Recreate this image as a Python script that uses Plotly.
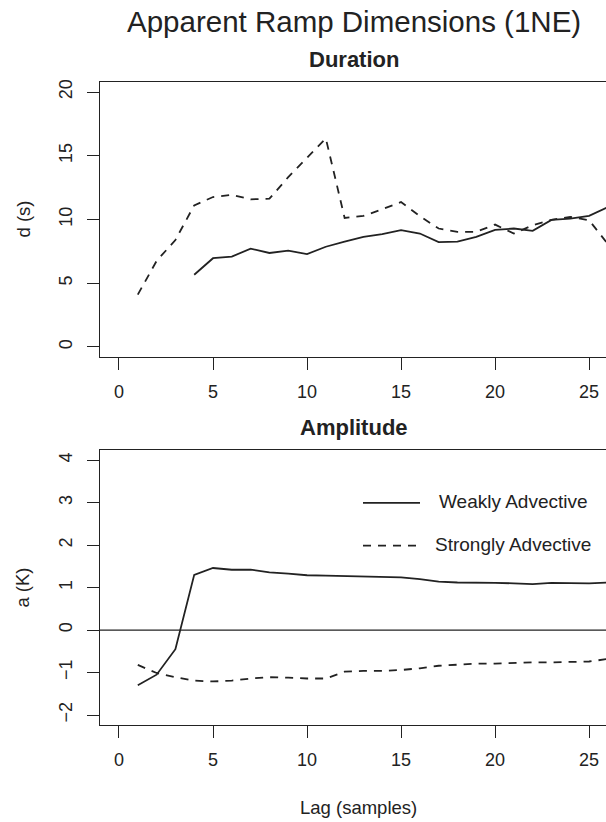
import plotly.graph_objects as go

# ---- data ----
lag = list(range(1, 27))
dur_weak_lag = list(range(4, 27))
dur_weak = [5.66, 6.96, 7.09, 7.71, 7.37, 7.55, 7.29, 7.86, 8.26, 8.64, 8.85, 9.16,
            8.90, 8.23, 8.26, 8.64, 9.19, 9.29, 9.11, 9.97, 10.07, 10.28, 10.97]
dur_strong = [4.10, 6.75, 8.39, 11.11, 11.76, 11.94, 11.58, 11.63, 13.32, 14.88, 16.36,
              10.12, 10.28, 10.80, 11.37, 10.26, 9.29, 9.03, 9.03, 9.60, 8.90, 9.55,
              9.97, 10.20, 9.94, 8.07]
amp_weak = [-1.30, -1.05, -0.45, 1.30, 1.46, 1.42, 1.42, 1.36, 1.33, 1.29, 1.28, 1.27,
            1.27, 1.26, 1.24, 1.20, 1.14, 1.12, 1.12, 1.11, 1.10, 1.08, 1.11, 1.10,
            1.10, 1.12]
amp_strong = [-0.82, -1.01, -1.11, -1.19, -1.21, -1.19, -1.14, -1.11, -1.12, -1.14,
              -1.14, -0.98, -0.96, -0.96, -0.94, -0.90, -0.84, -0.81, -0.79, -0.79,
              -0.77, -0.76, -0.76, -0.75, -0.74, -0.68]
x_ticks = [0, 5, 10, 15, 20, 25]
dur_ticks = [0, 5, 10, 15, 20]
amp_ticks = [-2, -1, 0, 1, 2, 3, 4]
series_names = ["Weakly Advective", "Strongly Advective"]

W, H = 606, 822
INK = "#222222"
FONT = "Liberation Sans, Arial, Helvetica, sans-serif"

def px_x(p):
    return p / W

def px_y(p):
    return 1 - p / H

fig = go.Figure()
line_solid = dict(color=INK, width=1.8)
line_dash = dict(color=INK, width=1.8, dash="8px,7px")

fig.add_trace(go.Scatter(x=dur_weak_lag, y=dur_weak, mode="lines", line=line_solid,
                         xaxis="x", yaxis="y", showlegend=False))
fig.add_trace(go.Scatter(x=lag, y=dur_strong, mode="lines", line=line_dash,
                         xaxis="x", yaxis="y", showlegend=False))
fig.add_trace(go.Scatter(x=lag, y=amp_weak, mode="lines", line=line_solid,
                         xaxis="x2", yaxis="y2", showlegend=False))
fig.add_trace(go.Scatter(x=lag, y=amp_strong, mode="lines", line=line_dash,
                         xaxis="x2", yaxis="y2", showlegend=False))

xdom = [px_x(100), 1.0]
xrange = [-1.01, 25.9]
axis_common = dict(showline=True, linecolor=INK, linewidth=1.3, ticks="outside",
                   ticklen=12, tickwidth=1.2, tickcolor=INK, showgrid=False,
                   zeroline=False, tickfont=dict(family=FONT, size=18, color=INK))

fig.update_layout(
    width=W, height=H,
    margin=dict(l=0, r=0, t=0, b=0),
    paper_bgcolor="white", plot_bgcolor="white",
    xaxis=dict(domain=xdom, range=xrange, tickvals=x_ticks, anchor="y", mirror=True,
               ticklabelstandoff=6, **axis_common),
    yaxis=dict(domain=[px_y(356), px_y(80)], range=[-0.8, 20.8], tickvals=dur_ticks,
               anchor="x", tickangle=-90, ticklabelstandoff=8, **axis_common),
    xaxis2=dict(domain=xdom, range=xrange, tickvals=x_ticks, anchor="y2", mirror=True,
                ticklabelstandoff=6, **axis_common),
    yaxis2=dict(domain=[px_y(725), px_y(449)], range=[-2.24, 4.24], tickvals=amp_ticks,
                anchor="x2", tickangle=-90, ticklabelstandoff=8, **axis_common),
)

# zero reference line in amplitude panel
fig.add_shape(type="line", xref="x2 domain", yref="y2", x0=0, x1=1, y0=0, y1=0,
              line=dict(color=INK, width=1.2))

# legend (drawn manually to match original layout)
fig.add_shape(type="line", xref="paper", yref="paper", x0=px_x(363), x1=px_x(420),
              y0=px_y(502), y1=px_y(502), line=line_solid)
fig.add_shape(type="line", xref="paper", yref="paper", x0=px_x(363), x1=px_x(420),
              y0=px_y(545), y1=px_y(545), line=line_dash)

def text(s, x, y, size, bold=False, angle=0):
    fig.add_annotation(text=f"<b>{s}</b>" if bold else s, xref="paper", yref="paper",
                       x=px_x(x), y=px_y(y), xanchor="center", yanchor="middle",
                       showarrow=False, textangle=angle,
                       font=dict(family=FONT, size=size, color=INK))

text(series_names[0], 513, 501, 19)
text(series_names[1], 513, 544, 19)
text("Apparent Ramp Dimensions (1NE)", 354, 20, 29.5)
text("Duration", 354, 58, 22, bold=True)
text("Amplitude", 354, 427, 22, bold=True)
text("Lag (samples)", 358, 807, 18.5)
text("d (s)", 23, 218, 18.5, angle=-90)
text("a (K)", 23, 587, 18.5, angle=-90)

fig.write_html("out.html")
